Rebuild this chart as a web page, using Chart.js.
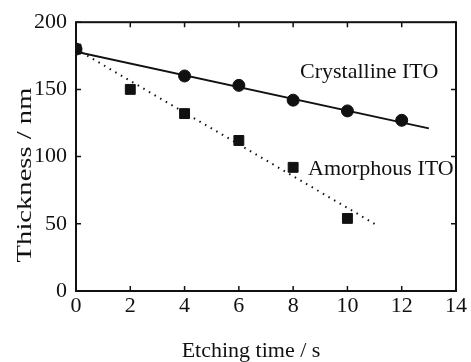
<!DOCTYPE html>
<html>
<head>
<meta charset="utf-8">
<script src="https://cdn.jsdelivr.net/npm/chart.js@4.4.0/dist/chart.umd.min.js"></script>
<style>
  html, body { margin: 0; padding: 0; background: #fff; }
  #wrap { width: 471px; height: 362px; }
</style>
</head>
<body>
<div id="wrap"><canvas id="myChart"></canvas></div>
<script>
"use strict";

// measured points
var crystTime = [0, 4, 6, 8, 10, 12];
var crystThick = [180, 160, 153, 142, 134, 127];
var amorTime = [0, 2, 4, 6, 8, 10];
var amorThick = [180, 150, 132, 112, 92, 54];
// fit lines (end points)
var crystFitTime = [0, 13];
var crystFitThick = [178, 121];
var amorFitTime = [0, 11];
var amorFitThick = [180, 50];
// axes
var xTicks = [0, 2, 4, 6, 8, 10, 12, 14];
var yTicks = [0, 50, 100, 150, 200];
var seriesLabels = ["Crystalline ITO", "Amorphous ITO"];
var xTitle = "Etching time / s";
var yTitle = "Thickness / nm";

function toPoints(xs, ys) {
  let pts = [];
  for (let i = 0; i < xs.length; i++) {
    pts.push({ x: xs[i], y: ys[i] });
  }
  return pts;
}

var serif = "'Liberation Serif', 'DejaVu Serif', serif";

// inside tick marks on all four sides, series labels and axis titles
var frameTicks = {
  id: "frameTicks",
  afterDatasetsDraw(chart) {
    const ctx = chart.ctx;
    const a = chart.chartArea;
    const xs = chart.scales.x;
    const ys = chart.scales.y;
    ctx.save();
    ctx.strokeStyle = "#111";
    ctx.lineWidth = 2;
    ctx.strokeRect(a.left, a.top, a.right - a.left, a.bottom - a.top);
    ctx.lineWidth = 1.5;
    ctx.beginPath();
    for (const v of xTicks) {
      const px = xs.getPixelForValue(v);
      ctx.moveTo(px, a.bottom); ctx.lineTo(px, a.bottom - 5);
      ctx.moveTo(px, a.top); ctx.lineTo(px, a.top + 5);
    }
    for (const v of yTicks) {
      const py = ys.getPixelForValue(v);
      ctx.moveTo(a.left, py); ctx.lineTo(a.left + 5, py);
      ctx.moveTo(a.right, py); ctx.lineTo(a.right - 5, py);
    }
    ctx.stroke();
    // series labels
    ctx.fillStyle = "#111";
    ctx.font = "22px " + serif;
    ctx.textBaseline = "alphabetic";
    ctx.textAlign = "left";
    ctx.fillText(seriesLabels[0], 300, 78);
    ctx.fillText(seriesLabels[1], 308, 175);
    // x title
    ctx.textAlign = "center";
    ctx.fillText(xTitle, 251, 357);
    // y title (rotated, drawn a little stretched like the scan)
    ctx.translate(31, 175);
    ctx.rotate(-Math.PI / 2);
    ctx.scale(1.3, 1);
    ctx.fillText(yTitle, 0, 0);
    ctx.restore();
  }
};

var config = {
  type: "scatter",
  data: {
    datasets: [
      {
        label: "Crystalline fit",
        type: "line",
        data: toPoints(crystFitTime, crystFitThick),
        borderColor: "#111",
        borderWidth: 2,
        pointRadius: 0,
        fill: false
      },
      {
        label: "Amorphous fit",
        type: "line",
        data: toPoints(amorFitTime, amorFitThick),
        borderColor: "#111",
        borderWidth: 2,
        borderDash: [1.5, 5],
        pointRadius: 0,
        fill: false
      },
      {
        label: seriesLabels[0],
        data: toPoints(crystTime, crystThick),
        pointStyle: "circle",
        pointRadius: 6,
        backgroundColor: "#111",
        borderColor: "#111"
      },
      {
        label: seriesLabels[1],
        data: toPoints(amorTime, amorThick),
        pointStyle: "rect",
        pointRadius: 7,
        backgroundColor: "#111",
        borderColor: "#111"
      }
    ]
  },
  options: {
    responsive: true,
    maintainAspectRatio: false,
    animation: false,
    layout: { padding: { top: 22, right: 15, left: 0, bottom: 0 } },
    plugins: { legend: { display: false }, tooltip: { enabled: false } },
    scales: {
      x: {
        type: "linear",
        min: 0, max: 14,
        afterBuildTicks(scale) { scale.ticks = xTicks.map(v => ({ value: v })); },
        afterFit(scale) { scale.height = 71; },
        grid: { display: false, drawTicks: false },
        border: { display: false },
        ticks: { color: "#111", font: { family: serif, size: 22 }, padding: 2, maxRotation: 0 },
        title: { display: false }
      },
      y: {
        type: "linear",
        min: 0, max: 200,
        afterBuildTicks(scale) { scale.ticks = yTicks.map(v => ({ value: v })); },
        afterFit(scale) { scale.width = 76; },
        grid: { display: false, drawTicks: false },
        border: { display: false },
        ticks: { color: "#111", font: { family: serif, size: 22 }, padding: 9 },
        title: { display: false }
      }
    }
  },
  plugins: [frameTicks]
};

new Chart(document.getElementById("myChart"), config);
</script>
</body>
</html>
